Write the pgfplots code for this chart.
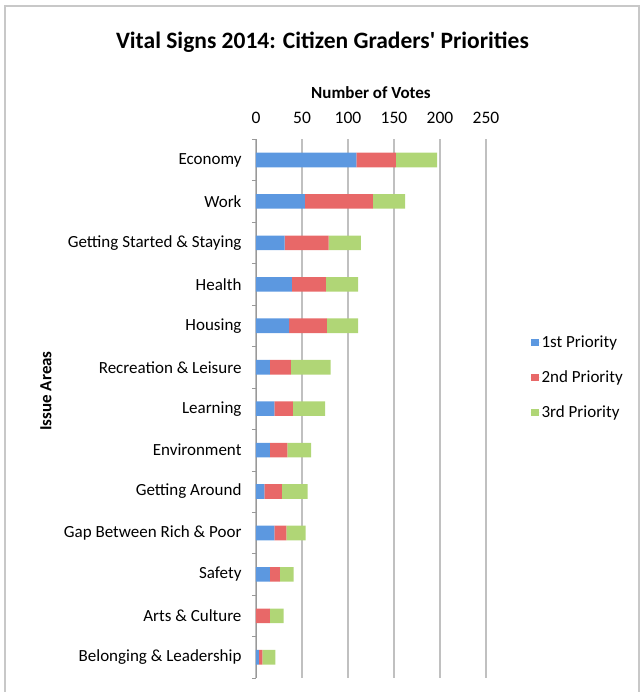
\documentclass[border=0pt]{standalone}
\usepackage{fontspec}
\setmainfont{Carlito}[Ligatures=TeXOff]
\usepackage{pgfplots}
\pgfplotsset{compat=1.18}

\definecolor{pblue}{RGB}{92,152,224}
\definecolor{pred}{RGB}{232,104,104}
\definecolor{pgreen}{RGB}{176,214,118}
\definecolor{gridgray}{RGB}{192,192,192}
\definecolor{framegray}{RGB}{200,200,200}

\begin{document}
\begin{tikzpicture}
\useasboundingbox (-256pt,-20pt) rectangle (386pt,672pt);
\draw[framegray, line width=2.5pt] (-251pt,-30pt) -- (-251pt,666pt) -- (383pt,666pt) -- (383pt,-30pt);

\node[font=\bfseries\fontsize{23.5}{28}\selectfont] at (66.5pt,630pt) {Vital Signs 2014: Citizen Graders' Priorities};
\node[font=\bfseries\fontsize{17}{20}\selectfont, rotate=90] at (-210pt,281pt) {Issue Areas};

\begin{axis}[
    at={(0pt,-6pt)}, anchor=south west,
    width=230pt, height=538.7pt, scale only axis,
    xbar stacked, bar width=14.6pt,
    xmin=0, xmax=250, ymin=-0.5, ymax=12.5,
    axis y line*=left, axis x line*=top,
    x axis line style={draw=none},
    y axis line style={draw=gray!80, line width=0.6pt},
    xtick={0,50,...,250},
    xtick style={draw=none},
    xmajorgrids, major grid style={draw=gridgray, line width=1.8pt},
    ytick={0,...,12},
    yticklabels={Belonging \& Leadership, Arts \& Culture, Safety, Gap Between Rich \& Poor, Getting Around, Environment, Learning, Recreation \& Leisure, Housing, Health, Getting Started \& Staying, Work, Economy},
    minor ytick={-0.5,0.5,...,12.5},
    major tick length=0pt, minor tick length=4pt, tick align=outside,
    minor tick style={draw=gray!80, line width=0.6pt},
    yticklabel style={font=\fontsize{17}{20}\selectfont, xshift=-11pt},
    xticklabel style={font=\fontsize{17.5}{20}\selectfont, yshift=12pt},
    /pgf/number format/assume math mode=true,
    xlabel={Number of Votes},
    xlabel style={font=\bfseries\fontsize{17}{20}\selectfont, yshift=7pt},
    legend style={at={(axis description cs:1.18,0.641)}, anchor=north west, draw=none,
        font=\fontsize{17}{20}\selectfont, row sep=19.5pt, nodes={inner sep=1pt}},
    legend cell align=left,
]
\addplot[fill=pblue, draw=none, legend image code/.code={\fill[pblue] (0pt,-3.5pt) rectangle (8pt,3.5pt); \path (0pt,0pt) -- (10pt,0pt);}] coordinates {
    (3,0) (0,1) (15,2) (20,3) (9,4) (15,5) (20,6) (15,7) (36,8) (39,9) (31,10) (53,11) (109,12)
};
\addplot[fill=pred, draw=none, legend image code/.code={\fill[pred] (0pt,-3.5pt) rectangle (8pt,3.5pt); \path (0pt,0pt) -- (10pt,0pt);}] coordinates {
    (4,0) (15,1) (11,2) (13,3) (19,4) (19,5) (20,6) (23,7) (41,8) (37,9) (48,10) (74,11) (43,12)
};
\addplot[fill=pgreen, draw=none, legend image code/.code={\fill[pgreen] (0pt,-3.5pt) rectangle (8pt,3.5pt); \path (0pt,0pt) -- (10pt,0pt);}] coordinates {
    (14,0) (15,1) (15,2) (21,3) (28,4) (26,5) (35,6) (43,7) (34,8) (35,9) (35,10) (35,11) (45,12)
};
\legend{1st Priority, 2nd Priority, 3rd Priority}
\end{axis}
\end{tikzpicture}
\end{document}
